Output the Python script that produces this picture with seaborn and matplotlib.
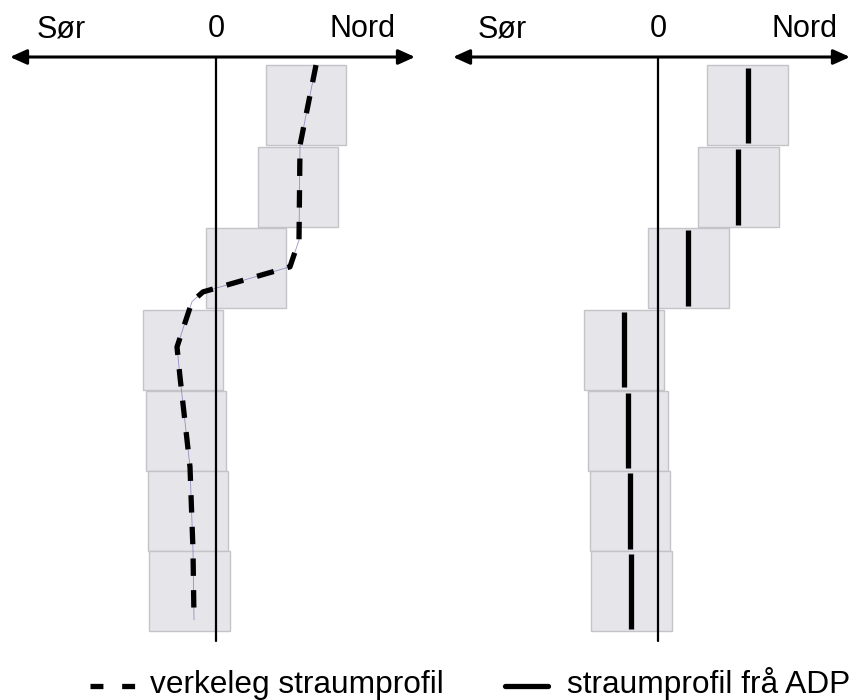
import matplotlib.pyplot as plt
import matplotlib.lines as mlines
import seaborn as sns

# velocity in cm/s (positive = north), depth in bin units
bin_top = [0.1, 1.11, 2.11, 3.12, 4.12, 5.11, 6.1]
bin_height = 0.99
adcp_left = [22.5, 20.5, 7.5, -8.25, -7.5, -7.0, -6.6]
adcp_right = [22.4, 20.1, 7.6, -8.5, -7.5, -7.0, -6.7]
true_vel = [25.0, 21.0, 20.75, 18.5, -3.25, -6.0, -9.75, -9.0, -6.5, -5.75, -5.5]
true_depth = [0.1, 1.09, 2.26, 2.59, 2.90, 3.02, 3.58, 3.95, 5.06, 6.09, 6.95]
half_width = 10.1
labels = ["Sør", "0", "Nord"]
legend_labels = ["verkeleg straumprofil", "straumprofil frå ADP"]

sns.set_style("white")
plt.rcParams['font.family'] = ['Liberation Sans', 'DejaVu Sans']
plt.rcParams['text.color'] = 'black'

W, H = 851, 700
fig = plt.figure(figsize=(W / 100, H / 100), dpi=100)
fig.patch.set_facecolor("white")


def px_ylim():
    return (H - 57) / 81, -57 / 81


def draw_panel(ax, adcp, zero_px, left_px, right_px, arrow_l, arrow_r, sor_px, nord_px):
    ax.set_xlim((left_px - zero_px) / 4, (right_px - zero_px) / 4)
    ax.set_ylim(*px_ylim())
    ax.axis("off")
    centers = [t + bin_height / 2 for t in bin_top]
    ax.barh(centers, [2 * half_width] * len(adcp),
            left=[v - half_width for v in adcp], height=bin_height,
            color="#e6e6ea", edgecolor="#c4c4c8", linewidth=1.0, zorder=1)
    # axis arrow
    ax.annotate("", xy=((arrow_r - zero_px) / 4, 0), xytext=((arrow_l - zero_px) / 4, 0),
                arrowprops=dict(arrowstyle="<|-|>,head_length=1.0,head_width=0.45",
                                color="black", lw=2.2, shrinkA=0, shrinkB=0),
                annotation_clip=False, zorder=5)
    ax.plot([0, 0], [0, (641 - 57) / 81], color="black", lw=1.6, zorder=4)
    yb = (37 - 57) / 81
    ax.text((sor_px - zero_px) / 4, yb, labels[0], fontsize=22, ha="left", va="baseline")
    ax.text(0, yb, labels[1], fontsize=22, ha="center", va="baseline")
    ax.text((nord_px - zero_px) / 4, yb, labels[2], fontsize=22, ha="right", va="baseline")
    return ax


ax1 = fig.add_axes([0, 0, 430 / W, 1])
draw_panel(ax1, adcp_left, 216, 0, 430, 10, 415, 37, 395)
sns.lineplot(x=true_vel, y=true_depth, sort=False, estimator=None, ax=ax1,
             color="#6a6ab0", lw=0.6, alpha=0.7, zorder=2)
sns.lineplot(x=true_vel, y=true_depth, sort=False, estimator=None, ax=ax1,
             color="black", lw=3.8, dashes=False, zorder=3)
ax1.lines[-1].set_dashes((3.3, 2.7))
ax1.set_xlim((0 - 216) / 4, (430 - 216) / 4)
ax1.set_ylim(*px_ylim())
ax1.axis("off")

ax2 = fig.add_axes([430 / W, 0, 421 / W, 1])
draw_panel(ax2, adcp_right, 658, 430, 851, 453, 850, 478, 837)
ax2.vlines(adcp_right, [t + 0.03 for t in bin_top], [t + bin_height - 0.03 for t in bin_top],
           color="black", lw=3.8, zorder=3)

# legend
yl = 1 - 686 / H
fig.add_artist(mlines.Line2D([90 / W, 136 / W], [yl, yl], color="black", lw=3.8,
                             dashes=(2.45, 3.55), transform=fig.transFigure))
fig.add_artist(mlines.Line2D([505 / W, 548 / W], [yl, yl], color="black", lw=3.8,
                             transform=fig.transFigure))
fig.text(150 / W, 1 - 693 / H, legend_labels[0], fontsize=22.8, ha="left", va="baseline")
fig.text(567 / W, 1 - 693 / H, legend_labels[1], fontsize=22.8, ha="left", va="baseline")

fig.savefig("out.png", dpi=100, facecolor="white")
